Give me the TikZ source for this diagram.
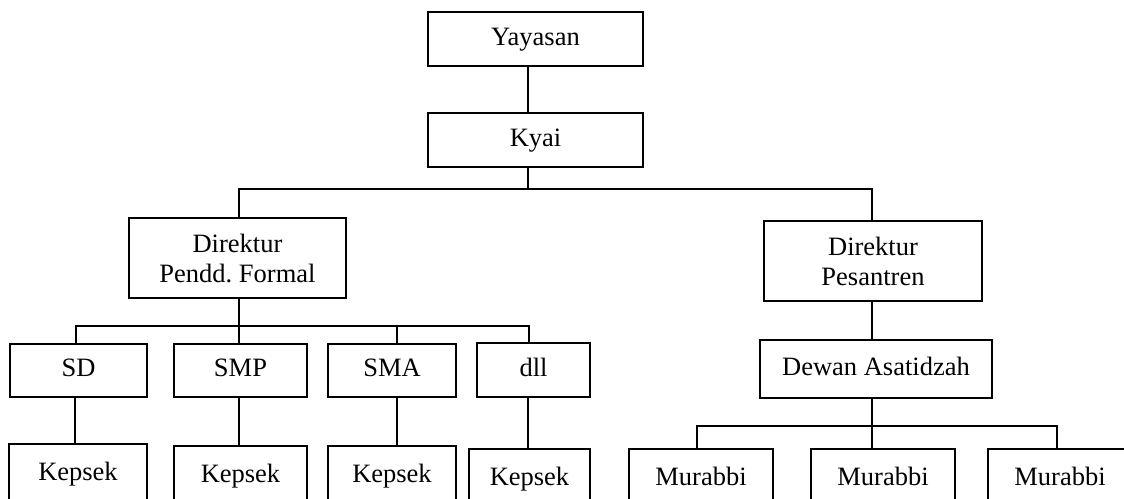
\documentclass[tikz,border=0pt]{standalone}
\usepackage{fontspec}
\setmainfont{Liberation Serif}
\frenchspacing
\begin{document}
\begin{tikzpicture}[x=1pt,y=-1pt,
  box/.style={draw, line width=1.1pt, inner sep=0pt, align=center,
    font=\fontsize{26.5}{30}\selectfont},
  one/.style={box, text height=18pt, text depth=6pt},
  conn/.style={line width=1.6pt}]
\useasboundingbox (0,0) rectangle (1124,498);
\clip (0,0) rectangle (1124,498);
% top
\node[one, minimum width=215pt, minimum height=54pt] (yay) at (535.5,39) {Yayasan};
\node[one, minimum width=215pt, minimum height=54pt] (kyai) at (535.5,140) {Kyai};
% directors
\node[box, minimum width=217pt, minimum height=80pt] (dpf) at (237.5,258) {Direktur\\Pendd.\ Formal};
\node[box, minimum width=218pt, minimum height=80pt] (dp) at (873,261) {Direktur\\Pesantren};
% schools
\node[one, minimum width=137pt, minimum height=53pt] (sd) at (78.5,370.5) {SD};
\node[one, minimum width=133pt, minimum height=53pt] (smp) at (240.5,370.5) {SMP};
\node[one, minimum width=128pt, minimum height=53pt] (sma) at (392,370.5) {SMA};
\node[one, minimum width=113pt, minimum height=54pt] (dll) at (533.5,370) {dll};
\node[one, minimum width=232pt, minimum height=58pt] (dewan) at (876,369) {Dewan Asatidzah};
% bottom row
\node[one, minimum width=138pt, minimum height=60pt] (k1) at (78,474) {Kepsek};
\node[one, minimum width=133pt, minimum height=60pt] (k2) at (240.5,476) {Kepsek};
\node[one, minimum width=128pt, minimum height=60pt] (k3) at (392,476) {Kepsek};
\node[one, minimum width=121pt, minimum height=60pt] (k4) at (529.5,479) {Kepsek};
\node[one, minimum width=144pt, minimum height=60pt] (m1) at (701,479) {Murabbi};
\node[one, minimum width=144pt, minimum height=60pt] (m2) at (883,479) {Murabbi};
\node[one, minimum width=144pt, minimum height=60pt] (m3) at (1060,479) {Murabbi};
% connectors top
\coordinate (t) at (528,189);
\coordinate (tl) at (239,189);
\coordinate (tr) at (872,189);
\draw[conn] (yay.south -| t) -- (kyai.north -| t);
\draw[conn] (kyai.south -| t) -- (t);
\draw[conn] (tl |- dpf.north) -- (tl) -- (tr) -- (tr |- dp.north);
% formal branch
\coordinate (bm) at (239,326);
\coordinate (bl) at (76,326);
\coordinate (br) at (529,326);
\coordinate (bs) at (397,326);
\draw[conn] (dpf.south -| bm) -- (bm);
\draw[conn] (bl |- sd.north) -- (bl) -- (br) -- (br |- dll.north);
\draw[conn] (bm) -- (bm |- smp.north);
\draw[conn] (bs) -- (bs |- sma.north);
\coordinate (x1) at (75,0);
\coordinate (x2) at (239,0);
\coordinate (x3) at (397,0);
\coordinate (x4) at (528,0);
\draw[conn] (sd.south -| x1) -- (k1.north -| x1);
\draw[conn] (smp.south -| x2) -- (k2.north -| x2);
\draw[conn] (sma.south -| x3) -- (k3.north -| x3);
\draw[conn] (dll.south -| x4) -- (k4.north -| x4);
% pesantren branch
\coordinate (dm) at (872,426);
\coordinate (dl) at (697,426);
\coordinate (dr) at (1057,426);
\draw[conn] (dp.south -| dm) -- (dewan.north -| dm);
\draw[conn] (dewan.south -| dm) -- (dm);
\draw[conn] (dl |- m1.north) -- (dl) -- (dr) -- (dr |- m3.north);
\draw[conn] (dm) -- (dm |- m2.north);
\end{tikzpicture}
\end{document}
